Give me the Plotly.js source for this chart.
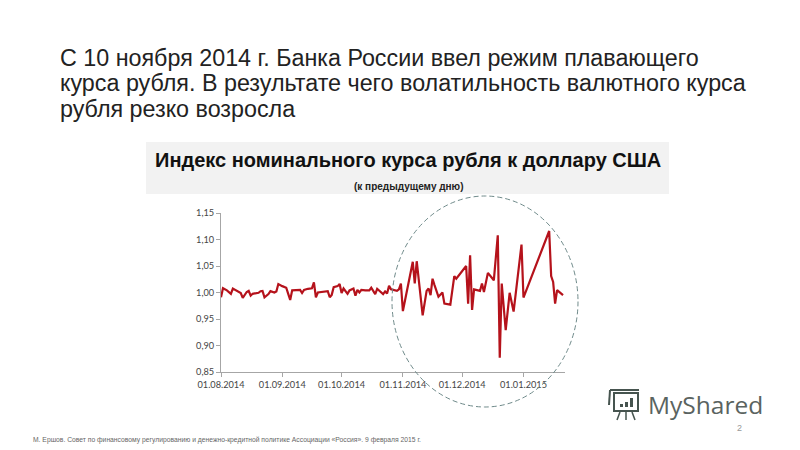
<!DOCTYPE html>
<html><head><meta charset="utf-8">
<script src="https://cdn.plot.ly/plotly-3.0.1.min.js"></script>
<style>html,body{margin:0;padding:0;background:#fff}#c{width:800px;height:450px}</style>
</head><body><div id="c"></div>
<script>
const headingLines = ["С 10 ноября 2014 г. Банка России ввел режим плавающего","курса рубля. В результате чего волатильность валютного курса","рубля резко возросла"];
const chartTitle = "Индекс номинального курса рубля к доллару США";
const chartSubtitle = "(к предыдущему дню)";
const footnote = "М. Ершов. Совет по финансовому регулированию и денежно-кредитной политике Ассоциации «Россия». 9 февраля 2015 г.";
const pageNumber = "2";
const brand = "MyShared";
const dates = ["2014-08-01","2014-08-02","2014-08-04","2014-08-06","2014-08-07","2014-08-09","2014-08-11","2014-08-12","2014-08-14","2014-08-15","2014-08-16","2014-08-17","2014-08-20","2014-08-21","2014-08-22","2014-08-23","2014-08-25","2014-08-26","2014-08-28","2014-08-29","2014-08-30",
"2014-09-01","2014-09-03","2014-09-04","2014-09-05","2014-09-06","2014-09-08","2014-09-10","2014-09-11","2014-09-12","2014-09-14","2014-09-16","2014-09-17","2014-09-18","2014-09-19","2014-09-21","2014-09-23","2014-09-24","2014-09-25","2014-09-26","2014-09-27","2014-09-29","2014-09-30",
"2014-10-01","2014-10-02","2014-10-04","2014-10-05","2014-10-07","2014-10-08","2014-10-09","2014-10-10","2014-10-11","2014-10-13","2014-10-15","2014-10-16","2014-10-18","2014-10-19","2014-10-21","2014-10-22","2014-10-23","2014-10-24","2014-10-25","2014-10-26","2014-10-29","2014-10-30","2014-10-31",
"2014-11-01","2014-11-06","2014-11-07","2014-11-08","2014-11-11","2014-11-13","2014-11-14","2014-11-15","2014-11-16","2014-11-17","2014-11-19","2014-11-21","2014-11-22","2014-11-25","2014-11-27","2014-11-28",
"2014-12-03","2014-12-04","2014-12-05","2014-12-06","2014-12-07","2014-12-10","2014-12-11","2014-12-12","2014-12-14","2014-12-17","2014-12-19","2014-12-20","2014-12-21","2014-12-23","2014-12-25","2014-12-27","2014-12-31",
"2015-01-01","2015-01-14","2015-01-15","2015-01-16","2015-01-17","2015-01-18","2015-01-21"];
const values = [0.991,1.008,1.004,0.9975,1.0075,1.004,0.999,0.990,1.001,1.003,0.994,0.9975,0.9995,1.0025,1.003,0.991,0.997,1.0025,1.000,1.002,1.016,
1.012,1.009,0.9975,0.986,1.004,1.0045,1.005,0.999,1.005,1.007,1.008,1.019,0.991,1.000,1.001,1.003,1.0025,0.991,0.9955,1.010,1.012,1.016,
0.999,1.0075,0.9975,1.004,1.0075,0.994,1.005,1.000,1.005,1.004,1.004,1.009,0.997,1.007,1.0005,0.997,1.002,0.998,1.0125,1.006,1.003,1.006,1.017,
0.965,1.058,1.017,1.059,0.957,1.003,1.0075,0.995,1.026,1.014,0.992,1.000,0.979,0.977,1.031,1.026,
1.050,0.979,1.070,0.967,1.006,1.003,1.017,1.001,1.037,1.023,1.108,0.877,1.017,0.929,0.9995,0.964,1.0905,
0.9905,1.116,1.031,1.020,0.979,1.0045,0.995];
const xTicks = ["2014-08-01","2014-09-01","2014-10-01","2014-11-01","2014-12-01","2015-01-01"];
const yTicks = [0.85,0.90,0.95,1.00,1.05,1.10,1.15];
const W=800,H=450;
const px=x=>x/W, py=y=>1-y/H;
const ann=(text,x,y,size,opts={})=>Object.assign({text,xref:'paper',yref:'paper',x:px(x),y:py(y),xanchor:'left',yanchor:'middle',showarrow:false,font:Object.assign({family:'Liberation Sans',size,color:'#222'},opts.font||{})},opts.a||{});
const rect=(x0,y0,x1,y1,fill)=>({type:'rect',xref:'paper',yref:'paper',x0:px(x0),x1:px(x1),y0:py(y0),y1:py(y1),fillcolor:fill,line:{width:0},layer:'below'});
const ln=(x0,y0,x1,y1,c,w)=>({type:'line',xref:'paper',yref:'paper',x0:px(x0),x1:px(x1),y0:py(y0),y1:py(y1),line:{color:c,width:w}});
const logo='#46544f';
const shapes=[
 rect(146,142,669,194,'#f2f2f2'),
 {type:'circle',xref:'paper',yref:'paper',x0:px(392),x1:px(578),y0:py(407),y1:py(196),line:{color:'#6f8a8a',width:1,dash:'5px,3px'}},
 {type:'rect',xref:'paper',yref:'paper',x0:px(614),x1:px(638),y0:py(411),y1:py(393),line:{color:logo,width:2},fillcolor:'rgba(0,0,0,0)'},
 ln(610,390,639,390,logo,2), ln(610,390,609,405,logo,2),
 rect(620,404,623,407,logo), rect(625,402,628,407,logo), rect(630,398,633,407,logo),
 ln(620,412,617,420,logo,1.5), ln(626,412,626,420,logo,1.5), ln(632,412,635,420,logo,1.5)
];
const annotations=[
 ann(headingLines[0],58,58,23.3),
 ann(headingLines[1],58,83,23.3),
 ann(headingLines[2],58,109,23.3),
 ann('<b>'+chartTitle+'</b>',408,160,20,{a:{xanchor:'center'},font:{color:'#111'}}),
 ann('<b>'+chartSubtitle+'</b>',408,186,10,{a:{xanchor:'center'},font:{color:'#222'}}),
 ann(footnote,31,440,6.75,{font:{color:'#666'}}),
 ann(pageNumber,735,428,9,{font:{color:'#999'}}),
 ann(brand,646,404,24.5,{font:{family:'Open Sans',color:'#5a6360'}})
];
Plotly.newPlot('c',[{type:'scatter',mode:'lines',x:dates,y:values,line:{color:'#b5121b',width:2.2,shape:'linear'},hoverinfo:'skip'}],{
 width:W,height:H,margin:{l:0,r:0,t:0,b:0},paper_bgcolor:'#fff',plot_bgcolor:'rgba(0,0,0,0)',showlegend:false,
 font:{family:'Lato',size:9,color:'#444'},separators:', ',
 xaxis:{type:'date',domain:[221/W,565/W],range:['2014-08-01','2015-01-22'],tickmode:'array',tickvals:xTicks,ticktext:xTicks.map(d=>{const [y,m,dd]=d.split('-');return dd+'.'+m+'.'+y;}),ticks:'outside',ticklen:4,tickcolor:'#a6a6a6',showline:true,linecolor:'#a6a6a6',linewidth:1,showgrid:false,zeroline:false,tickangle:0,tickfont:{family:'Lato',size:9.2,color:'#444'}},
 yaxis:{domain:[78/H,237/H],range:[0.85,1.15],tickmode:'array',tickvals:yTicks,tickformat:'.2f',ticks:'outside',ticklen:4,tickcolor:'#a6a6a6',showline:true,linecolor:'#a6a6a6',linewidth:1,showgrid:false,zeroline:false,tickfont:{family:'Lato',size:9.2,color:'#444'}},
 shapes,annotations
},{displayModeBar:false,staticPlot:true});
</script></body></html>
